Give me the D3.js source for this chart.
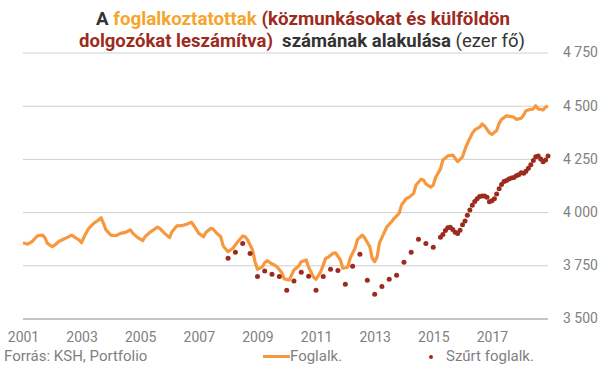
<!DOCTYPE html>
<html><head><meta charset="utf-8">
<script src="https://cdn.jsdelivr.net/npm/d3@7"></script>
<style>
body{margin:0;background:#fff;}
svg{display:block;font-family:Roboto,"Noto Sans",sans-serif;}
</style></head>
<body><svg id="c" width="602" height="369"></svg>
<script>
// ---- data ----
const yTicks = [3500, 3750, 4000, 4250, 4500, 4750];
const xTickYears = [2001, 2003, 2005, 2007, 2009, 2011, 2013, 2015, 2017];

const fogDates = [
"2001-01","2001-03","2001-05","2001-07","2001-09","2001-10","2001-11",
"2002-01","2002-02","2002-04","2002-05","2002-07","2002-09","2002-10","2002-12",
"2003-01","2003-02","2003-04","2003-06","2003-08","2003-09","2003-10","2003-11",
"2004-01","2004-03","2004-05","2004-07","2004-09","2004-10","2004-12",
"2005-02","2005-03","2005-05","2005-08","2005-09","2005-11",
"2006-01","2006-02","2006-04","2006-06","2006-08","2006-10","2006-11",
"2007-01","2007-03","2007-04","2007-06","2007-07","2007-08","2007-10","2007-11",
"2008-01","2008-03","2008-05","2008-07","2008-08","2008-09","2008-11","2008-12",
"2009-01","2009-03","2009-04","2009-05","2009-07","2009-08","2009-09","2009-11","2009-12",
"2010-02","2010-03","2010-04","2010-06","2010-07","2010-09","2010-10","2010-12",
"2011-01","2011-03","2011-04","2011-05","2011-06","2011-08","2011-09","2011-11","2011-12",
"2012-02","2012-03","2012-05","2012-06","2012-08","2012-09","2012-11","2012-12",
"2013-01","2013-02","2013-03","2013-05","2013-06","2013-08","2013-09","2013-11","2013-12",
"2014-02","2014-03","2014-05","2014-06","2014-08","2014-09","2014-10","2014-12",
"2015-01","2015-02","2015-04","2015-05","2015-07","2015-09","2015-10","2015-11",
"2016-01","2016-02","2016-03","2016-05","2016-06","2016-08","2016-09","2016-10","2016-12",
"2017-01","2017-03","2017-04","2017-05","2017-07","2017-09","2017-10","2017-11",
"2018-01","2018-02","2018-03","2018-05","2018-06","2018-07","2018-08","2018-10","2018-11","2018-12"];
const fogValues = [
3856,3849,3864,3889,3892,3880,3853,
3838,3845,3864,3869,3880,3892,3884,3869,
3856,3884,3924,3947,3963,3974,3947,3916,
3892,3889,3900,3905,3916,3900,3880,
3866,3884,3905,3929,3924,3900,
3880,3908,3935,3936,3943,3952,3936,
3900,3884,3905,3924,3919,3905,3884,3841,
3814,3830,3861,3888,3884,3869,3822,3767,
3731,3743,3762,3772,3756,3751,3743,3715,3686,
3681,3704,3728,3748,3767,3775,3741,3694,
3684,3720,3751,3783,3788,3806,3809,3775,3736,
3741,3783,3830,3872,3892,3877,3837,3783,
3767,3790,3855,3905,3931,3955,3971,3994,4033,
4065,4068,4088,4127,4154,4151,4132,4117,
4127,4164,4203,4245,4264,4268,4253,4237,
4260,4295,4323,4370,4386,4399,4414,4405,4373,
4365,4383,4417,4436,4452,4449,4446,4436,
4441,4456,4476,4483,4485,4500,4485,4480,4493,4499];

// Szűrt foglalk.: quarterly 2008-01 .. 2015-01, then monthly 2015-04 .. 2018-12
const szurtQuarterStart = "2008-01";
const szurtQuarterly = [3783,3811,3853,3806,3697,3723,3708,3697,3633,3676,3717,3698,3633,3697,3731,3725,3661,3745,3802,3680,3614,3650,3684,3703,3764,3811,3872,3853,3835];
const szurtMonthStart = "2015-04";
const szurtMonthly = [3882,3895,3913,3926,3929,3918,3905,3900,3915,3940,3958,3985,4010,4032,4050,4063,4073,4076,4076,4070,4049,4053,4063,4085,4110,4130,4144,4149,4155,4160,4163,4171,4176,4185,4182,4192,4206,4222,4242,4260,4264,4249,4237,4245,4264];

const colOrange = "#F7983F";
const colRed = "#9C2B1E";

// ---- build ----
const parse = d3.timeParse("%Y-%m");
const fog = fogDates.map((d,i)=>({date:parse(d), v:fogValues[i]}));
const szurt = [];
szurtQuarterly.forEach((v,i)=>szurt.push({date:d3.timeMonth.offset(parse(szurtQuarterStart), i*3), v}));
szurtMonthly.forEach((v,i)=>szurt.push({date:d3.timeMonth.offset(parse(szurtMonthStart), i), v}));

const svg = d3.select("#c");
const x = d3.scaleTime().domain([new Date(2001,0,1), new Date(2018,11,1)]).range([23, 548]);
const y = d3.scaleLinear().domain([3500, 4750]).range([318.5, 52.5]);

const loc = d3.formatLocale({thousands:"\u00a0", decimal:",", grouping:[3], currency:["",""]});
const fmt = loc.format(",");

// y axis / grid
const ya = svg.append("g").attr("transform","translate(548,0)")
  .call(d3.axisRight(y).tickValues(yTicks).tickSize(-525).tickPadding(15).tickFormat(fmt));
ya.select(".domain").remove();
ya.selectAll(".tick line").attr("stroke", d=> d===3500 ? "#8a8a8a" : "#cfcfcf").attr("stroke-width",1);
ya.selectAll(".tick text").attr("fill","#7f7f7f").style("font-size","14px").style("font-family","Roboto");

// x axis labels
const xa = svg.append("g").attr("transform","translate(0,332)")
  .call(d3.axisBottom(x).tickValues(xTickYears.map(yy=>new Date(yy,0,1))).tickSize(0).tickPadding(0).tickFormat(d3.timeFormat("%Y")));
xa.select(".domain").remove();
xa.selectAll(".tick text").attr("fill","#7f7f7f").style("font-size","14px").style("font-family","Roboto");

// line
svg.append("path").datum(fog)
  .attr("fill","none").attr("stroke",colOrange).attr("stroke-width",3.2).attr("stroke-linejoin","round")
  .attr("d", d3.line().x(d=>x(d.date)).y(d=>y(d.v)));

// dots
svg.append("g").selectAll("circle").data(szurt).join("circle")
  .attr("cx",d=>x(d.date)).attr("cy",d=>y(d.v)).attr("r",2.5).attr("fill",colRed);

// title
const t1 = svg.append("text").attr("x",303).attr("y",25).attr("text-anchor","middle")
  .style("font-size","18.5px").style("font-weight","bold").attr("textLength",414).attr("lengthAdjust","spacingAndGlyphs");
t1.append("tspan").attr("fill","#333").text("A ");
t1.append("tspan").attr("fill","#F5A52B").text("foglalkoztatottak");
t1.append("tspan").attr("fill","#9C2B1E").text(" (közmunkásokat és külföldön");
const t2 = svg.append("text").attr("x",302).attr("y",47).attr("text-anchor","middle")
  .style("font-size","18.5px").style("font-weight","bold").attr("textLength",446).attr("lengthAdjust","spacingAndGlyphs");
t2.append("tspan").attr("fill","#9C2B1E").text("dolgozókat leszámítva)");
t2.append("tspan").attr("fill","#333").text("\u00a0 számának alakulása ");
t2.append("tspan").attr("fill","#333").style("font-weight","normal").text("(ezer fő)");

// footer + legend
svg.append("text").attr("x",4).attr("y",361).attr("fill","#7f7f7f").style("font-size","15px").text("Forrás: KSH, Portfolio");
svg.append("line").attr("x1",263).attr("x2",290).attr("y1",356.5).attr("y2",356.5).attr("stroke",colOrange).attr("stroke-width",3);
svg.append("text").attr("x",290).attr("y",361).attr("fill","#7f7f7f").style("font-size","15px").text("Foglalk.");
svg.append("circle").attr("cx",431).attr("cy",357).attr("r",2).attr("fill",colRed);
svg.append("text").attr("x",446).attr("y",361).attr("fill","#7f7f7f").style("font-size","15px").text("Szűrt foglalk.");
</script></body></html>
